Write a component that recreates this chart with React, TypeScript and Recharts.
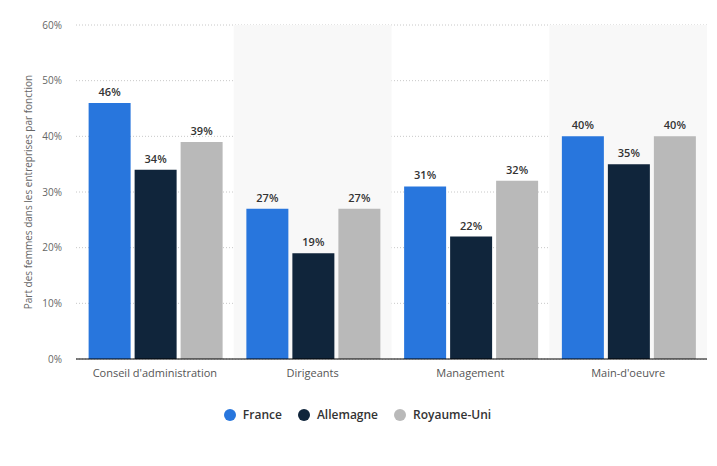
import {
  Bar,
  BarChart,
  CartesianGrid,
  LabelList,
  Legend,
  ReferenceArea,
  XAxis,
  YAxis,
} from "recharts";

const CATEGORIES = ["Conseil d'administration", "Dirigeants", "Management", "Main-d'oeuvre"];
const FRANCE = [46, 27, 31, 40];
const ALLEMAGNE = [34, 19, 22, 35];
const ROYAUME_UNI = [39, 27, 32, 40];
const Y_TICKS = [0, 10, 20, 30, 40, 50, 60];
const SHADED = ["Dirigeants", "Main-d'oeuvre"];

const data = CATEGORIES.map((name, i) => ({
  name,
  France: FRANCE[i],
  Allemagne: ALLEMAGNE[i],
  "Royaume-Uni": ROYAUME_UNI[i],
}));

const SERIES = [
  { key: "France", color: "#2876dd" },
  { key: "Allemagne", color: "#10253b" },
  { key: "Royaume-Uni", color: "#b9b9b9" },
];

const FONT = "'Open Sans', 'DejaVu Sans', sans-serif";

function LegendContent() {
  return (
    <div style={{ display: "flex", justifyContent: "center", gap: 16, fontFamily: FONT, fontSize: 12, fontWeight: 600, color: "#333" }}>
      {SERIES.map((s) => (
        <span key={s.key} style={{ display: "flex", alignItems: "center", gap: 7 }}>
          <span style={{ width: 12, height: 12, borderRadius: 6, backgroundColor: s.color, display: "inline-block" }} />
          {s.key}
        </span>
      ))}
    </div>
  );
}

export default function App() {
  return (
    <div style={{ fontFamily: FONT }}>
      <BarChart
        width={709}
        height={450}
        data={data}
        margin={{ top: 17, right: 10, bottom: 52, left: 0 }}
        barCategoryGap="8%"
        barGap={4}
      >
        {SHADED.map((c) => (
          <ReferenceArea key={c} x1={c} x2={c} fill="#f8f8f8" fillOpacity={1} stroke="none" ifOverflow="visible" />
        ))}
        <CartesianGrid vertical={false} stroke="#c8c8c8" strokeDasharray="1 2" />
        <XAxis
          dataKey="name"
          tickLine={false}
          axisLine={{ stroke: "#000" }}
          tickMargin={4}
          height={30}
          tick={{ fill: "#555", fontSize: 11, fontFamily: FONT }}
        />
        <YAxis
          domain={[0, 60]}
          ticks={Y_TICKS}
          tickFormatter={(v) => `${v}%`}
          tickLine={false}
          axisLine={false}
          tickMargin={8}
          width={68}
          tick={{ fill: "#666", fontSize: 10, fontFamily: FONT }}
          label={{
            value: "Part des femmes dans les entreprises par fonction",
            angle: -90,
            position: "insideLeft",
            offset: 20,
            style: { fill: "#666", fontSize: 10, fontFamily: FONT, textAnchor: "middle" },
          }}
        />
        <Legend verticalAlign="bottom" content={<LegendContent />} wrapperStyle={{ top: 398, bottom: "auto" }} />
        {SERIES.map((s) => (
          <Bar key={s.key} dataKey={s.key} fill={s.color} isAnimationActive={false}>
            <LabelList
              dataKey={s.key}
              position="top"
              offset={7}
              formatter={(v) => `${v}%`}
              style={{ fill: "#333", fontSize: 11, fontWeight: 600, fontFamily: FONT }}
            />
          </Bar>
        ))}
      </BarChart>
    </div>
  );
}
